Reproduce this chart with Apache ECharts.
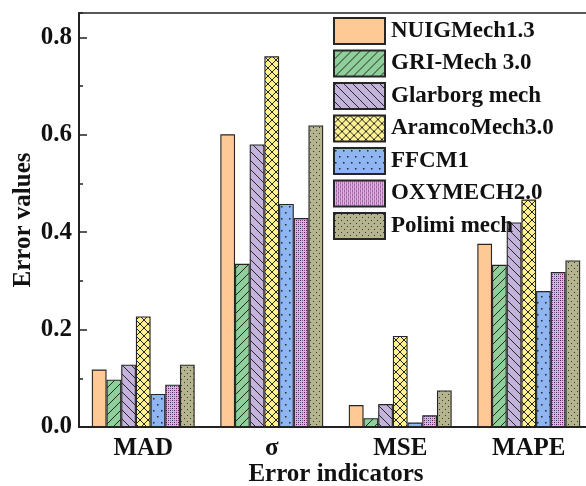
<!DOCTYPE html>
<html>
<head>
<meta charset="utf-8">
<script src="https://cdn.jsdelivr.net/npm/echarts@6/dist/echarts.min.js"></script>
<style>
html,body{margin:0;padding:0;background:#fff;}
#chart{width:586px;height:486px;}
</style>
</head>
<body>
<div id="chart"></div>
<script>
// ---- data ----
const categories = ['MAD', 'σ', 'MSE', 'MAPE'];
const seriesNames = ['NUIGMech1.3', 'GRI-Mech 3.0', 'Glarborg mech', 'AramcoMech3.0', 'FFCM1', 'OXYMECH2.0', 'Polimi mech'];
const nuigValues     = [0.118, 0.601, 0.045, 0.376];
const griValues      = [0.097, 0.335, 0.018, 0.333];
const glarborgValues = [0.128, 0.580, 0.047, 0.420];
const aramcoValues   = [0.227, 0.761, 0.187, 0.467];
const ffcmValues     = [0.068, 0.458, 0.009, 0.279];
const oxyValues      = [0.087, 0.429, 0.024, 0.318];
const polimiValues   = [0.128, 0.619, 0.075, 0.342];
const yTickLabels = ['0.0', '0.2', '0.4', '0.6', '0.8'];

const seriesValues = [nuigValues, griValues, glarborgValues, aramcoValues, ffcmValues, oxyValues, polimiValues];

// ---- patterns ----
function makePattern(bg, w, h, draw) {
  const c = document.createElement('canvas');
  c.width = w; c.height = h;
  const ctx = c.getContext('2d');
  ctx.fillStyle = bg; ctx.fillRect(0, 0, w, h);
  if (draw) draw(ctx, w, h);
  return { image: c, repeat: 'repeat' };
}
const ink = '#262626';
function lines(ctx, segs) {
  ctx.strokeStyle = ink; ctx.lineWidth = 1;
  ctx.beginPath();
  segs.forEach(s => { ctx.moveTo(s[0], s[1]); ctx.lineTo(s[2], s[3]); });
  ctx.stroke();
}
const fills = [
  '#FFC995',
  makePattern('#8FD09A', 9, 9, (c, w, h) => lines(c, [[0, h, w, 0], [-1, 1, 1, -1], [w - 1, h + 1, w + 1, h - 1]])),
  makePattern('#C4B3DA', 9, 9, (c, w, h) => lines(c, [[0, 0, w, h], [-1, h - 1, 1, h + 1], [w - 1, -1, w + 1, 1]])),
  makePattern('#FFF18E', 8, 8, (c, w, h) => lines(c, [[0, h, w, 0], [-1, 1, 1, -1], [w - 1, h + 1, w + 1, h - 1], [0, 0, w, h], [-1, h - 1, 1, h + 1], [w - 1, -1, w + 1, 1]])),
  makePattern('#8FB6F2', 8, 12, (c) => { c.fillStyle = ink; c.fillRect(1, 2, 1.5, 1.5); c.fillRect(5, 8, 1.5, 1.5); }),
  makePattern('#F3A6EC', 4, 4, (c) => { c.fillStyle = '#3a2a3a'; c.fillRect(0, 0, 1, 1); c.fillRect(2, 2, 1, 1); c.fillStyle = '#8a5a88'; c.fillRect(2, 0, 1, 1); c.fillRect(0, 2, 1, 1); }),
  makePattern('#B4B48E', 6, 6, (c) => { c.fillStyle = '#333'; c.fillRect(1, 1, 1, 1); c.fillRect(4, 4, 1, 1); })
];

const fontFam = '"Liberation Serif", "Times New Roman", serif';

const chart = echarts.init(document.getElementById('chart'), null, { renderer: 'canvas' });

const series = seriesNames.map((name, i) => ({
  name: name,
  type: 'bar',
  yAxisIndex: 0,
  barGap: '0%',
  barCategoryGap: '20%',
  data: seriesValues[i],
  itemStyle: { color: fills[i], borderColor: '#262626', borderWidth: 1.1 },
  emphasis: { disabled: true },
  animation: false
}));

const tickFmt = v => {
  const s = v.toFixed(1);
  return yTickLabels.indexOf(s) >= 0 && Math.abs(v * 10 - Math.round(v * 10)) < 1e-6 && Math.round(v * 10) % 2 === 0 ? s : '';
};

chart.setOption({
  animation: false,
  backgroundColor: '#ffffff',
  grid: { left: 79, top: 13, width: 514, height: 414, outerBoundsMode: 'none', containLabel: false, show: true, borderColor: '#222', borderWidth: 1.5, backgroundColor: 'transparent' },
  legend: {
    orient: 'vertical',
    left: 328, top: 12,
    itemWidth: 51, itemHeight: 26, itemGap: 4.5,
    icon: 'rect',
    textStyle: { fontFamily: fontFam, fontWeight: 'bold', fontSize: 23, color: '#111', padding: [0, 0, 0, 1] },
    data: seriesNames
  },
  xAxis: [{
    type: 'category',
    data: categories,
    axisLine: { show: true, lineStyle: { color: '#222', width: 2 } },
    axisTick: { show: false },
    axisLabel: { fontFamily: fontFam, fontWeight: 'bold', fontSize: 25, color: '#111', margin: 9 },
    name: 'Error indicators',
    nameLocation: 'middle',
    nameGap: 35,
    nameMoveOverlap: false,
    nameTextStyle: { fontFamily: fontFam, fontWeight: 'bold', fontSize: 25, color: '#111' }
  }],
  yAxis: [{
    type: 'value', position: 'left',
    min: 0, max: 0.85, interval: 0.2,
    axisLine: { show: true, lineStyle: { color: '#222', width: 2 } },
    axisTick: { show: true, inside: true, length: 8, lineStyle: { color: '#222', width: 1.5 } },
    splitLine: { show: false },
    axisLabel: { fontFamily: fontFam, fontWeight: 'bold', fontSize: 25, color: '#111', margin: 7, formatter: tickFmt, showMaxLabel: false },
    name: 'Error values',
    nameLocation: 'middle',
    nameGap: 43,
    nameRotate: 90,
    nameMoveOverlap: false,
    nameTextStyle: { fontFamily: fontFam, fontWeight: 'bold', fontSize: 25, color: '#111' }
  }, {
    type: 'value', position: 'left',
    min: 0, max: 0.85, interval: 0.1,
    axisLine: { show: false },
    axisTick: { show: true, inside: true, length: 4, lineStyle: { color: '#222', width: 1.5 } },
    splitLine: { show: false },
    axisLabel: { show: false }
  }, {
    type: 'value', position: 'right',
    min: 0, max: 0.85, interval: 0.1,
    axisLine: { show: true, lineStyle: { color: '#222', width: 1.5 } },
    axisTick: { show: true, inside: true, length: 6, lineStyle: { color: '#222', width: 1.5 } },
    splitLine: { show: false },
    axisLabel: { show: false }
  }],
  series: series
});
</script>
</body>
</html>
